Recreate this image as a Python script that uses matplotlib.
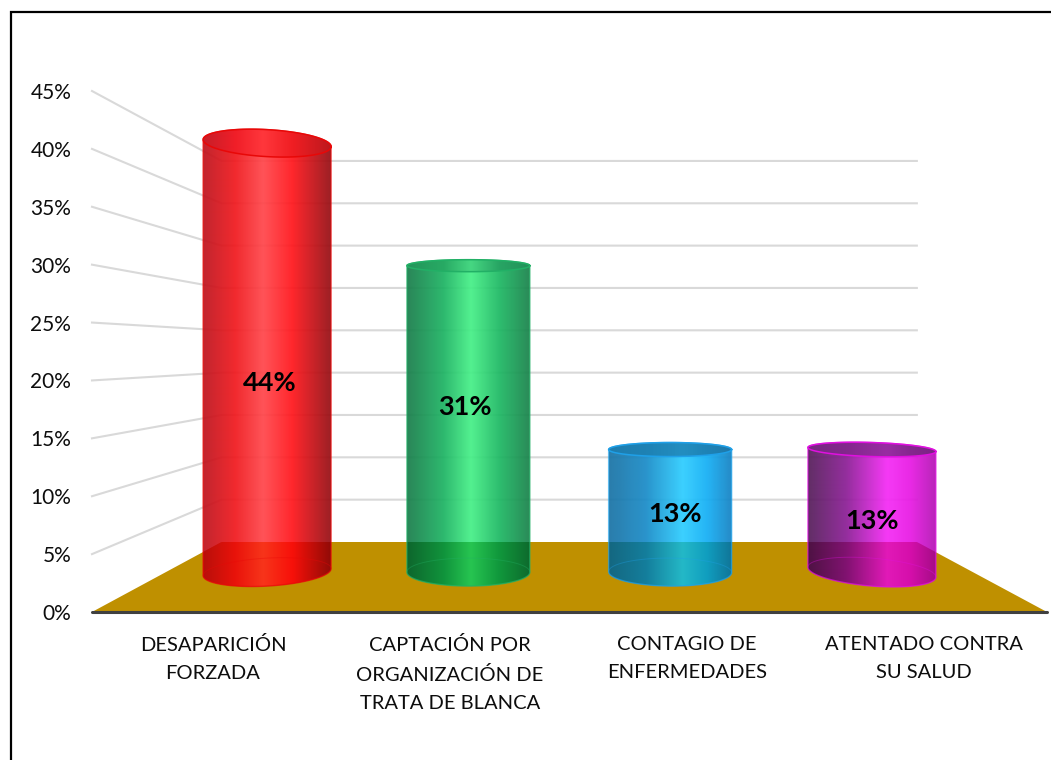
import numpy as np
import matplotlib
matplotlib.use("Agg")
import matplotlib.pyplot as plt
from matplotlib.lines import Line2D
from matplotlib.patches import Polygon, PathPatch
from matplotlib.path import Path

plt.rcParams['font.family'] = ['Lato', 'DejaVu Sans']

# ---- data ----
categories = ["DESAPARICIÓN\nFORZADA", "CAPTACIÓN POR\nORGANIZACIÓN DE\nTRATA DE BLANCA",
              "CONTAGIO DE\nENFERMEDADES", "ATENTADO CONTRA\nSU SALUD"]
values = [43.75, 31.25, 12.5, 12.5]
value_labels = ["44%", "31%", "13%", "13%"]
y_ticks = [0, 5, 10, 15, 20, 25, 30, 35, 40, 45]

# ---- style ----
W, H = 1051, 760
AX_L, AX_R, AX_T, AX_B = 92, 1047, 91, 612
XU = 237.0                      # px per category
YU = (AX_B - AX_T) / 45.0       # px per percent on front plane
X0 = (AX_L - 213) / XU
X1 = (AX_R - 213) / XU
X_SHRINK, Y_SHRINK, DEPTH_UP = 0.272, 0.2686, 70 / YU
CYL_DEPTH = 0.57
GRID = '#D9D9D9'
FLOOR = '#BF9000'
body_stops = [
    [(190, 20, 30), (240, 25, 30), (255, 70, 75), (255, 22, 28), (150, 15, 20)],
    [(25, 125, 75), (30, 180, 100), (70, 240, 135), (30, 185, 100), (25, 130, 75)],
    [(25, 115, 165), (25, 140, 200), (45, 205, 255), (20, 175, 245), (20, 130, 195)],
    [(85, 30, 90), (140, 30, 150), (245, 42, 245), (232, 25, 228), (180, 20, 180)],
]
top_stops = [
    [(200, 30, 40), (240, 30, 40), (255, 55, 60), (240, 30, 35), (190, 25, 30)],
    [(35, 150, 90), (40, 170, 100), (70, 215, 130), (40, 165, 100), (35, 145, 90)],
    [(30, 125, 175), (30, 130, 180), (35, 140, 190), (30, 130, 180), (30, 120, 170)],
    [(120, 40, 130), (130, 40, 140), (150, 45, 160), (130, 40, 140), (120, 35, 130)],
]
stop_pos = [
    [0, .25, .47, .7, 1], [0, .3, .52, .75, 1], [0, .3, .6, .8, 1], [0, .3, .62, .8, 1],
]
floor_tint = [(.97, .75, .35), (.55, .82, .6), (.8, .9, .78), (.92, .6, .75)]
edge_colors = ['#E80808', '#22B066', '#1FA0E8', '#E010E0']
cyl_dx = [-1, 0, 1.5, 3]
cyl_rx = [64, 61.5, 61.5, 64]
top_ry = [13.5, 6, 7, 7]
top_tilt = [3.5, 0, 0, 2]
base_ry = 14
base_tilt = [-3.5, 0, 0.5, 5]
label_dx = [2, -3, 6, 3]
label_dy = [-24, 13, -2, -9]


def project(x, v, d):
    """Map category x, percent v and floor depth d (0 front, 1 back) to front-plane data coords."""
    return 1.5 + (x - 1.5) * (1 - X_SHRINK * d), v * (1 - Y_SHRINK * d) + DEPTH_UP * d


def arc(cx, cy, rx, ry, tilt, t):
    return np.column_stack([cx + rx / XU * np.cos(t),
                            cy + (ry * np.sin(t) - tilt * np.cos(t)) / YU])


def floor_top(x):
    """Upper boundary of the floor polygon at front-plane x."""
    left_b = project(X0, 0, 1)[0]
    right_b = project(X1, 0, 1)[0]
    return np.minimum.reduce([np.full_like(x, DEPTH_UP),
                              (x - X0) / (left_b - X0) * DEPTH_UP,
                              (X1 - x) / (X1 - right_b) * DEPTH_UP])


def gradient(ax, stops, pos, alpha, clip, xlim, ylim, z):
    s = np.linspace(0, 1, 256)
    rgb = np.array(stops, float) / 255
    img = np.ones((1, 256, 4))
    for c in range(3):
        img[0, :, c] = np.interp(s, pos, rgb[:, c])
    img[0, :, 3] = alpha
    im = ax.imshow(img, extent=(xlim[0], xlim[1], ylim[0], ylim[1]), aspect='auto',
                   interpolation='bilinear', zorder=z, origin='lower')
    im.set_clip_path(clip)


fig = plt.figure(figsize=(W / 100, H / 100), dpi=100, facecolor='white')
ax = fig.add_axes([AX_L / W, 1 - AX_B / H, (AX_R - AX_L) / W, (AX_B - AX_T) / H])
ax.patch.set_visible(False)

# walls
for v in y_ticks[1:]:
    a = project(X0, v, 0); b = project(X0, v, 1); c = project(X1, v, 1)
    ax.plot([a[0], b[0], c[0]], [a[1], b[1], c[1]], color=GRID, lw=1.5, zorder=1,
            solid_joinstyle='miter', clip_on=False)

# floor
ax.add_patch(Polygon([project(X0, 0, 0), project(X1, 0, 0), project(X1, 0, 1), project(X0, 0, 1)],
                     closed=True, facecolor=FLOOR, edgecolor='none', zorder=2, clip_on=False))
ax.plot([X0, X1], [0, 0], color='#404040', lw=2.2, zorder=3, clip_on=False, solid_capstyle='round')

# cylinders
for i, val in enumerate(values):
    cx, base = project(i, 0, CYL_DEPTH)
    cx += cyl_dx[i] / XU
    _, top = project(i, val, CYL_DEPTH)
    rx = cyl_rx[i]
    upper = arc(cx, top, rx, top_ry[i], top_tilt[i], np.linspace(np.pi, 0, 60))
    lower = arc(cx, base, rx, base_ry, base_tilt[i], np.linspace(0, -np.pi, 60))
    outline = np.vstack([upper, lower, upper[:1]])
    body = PathPatch(Path(outline), facecolor='none', edgecolor='none', transform=ax.transData)
    ax.add_patch(body)
    xl = (cx - rx / XU, cx + rx / XU)
    yl = (base - 30 / YU, top + 30 / YU)
    gradient(ax, body_stops[i], stop_pos[i], 0.93, body, xl, yl, 4)
    # part of the cylinder in front of the floor: tinted section
    xs = np.linspace(xl[0], xl[1], 80)
    section = np.vstack([np.column_stack([xs, floor_top(xs)]), lower, [[xs[0], floor_top(xs[:1])[0]]]])
    sec = PathPatch(Path(section), facecolor='none', edgecolor='none', transform=ax.transData)
    ax.add_patch(sec)
    tinted = [tuple(c * m for c, m in zip(stop, floor_tint[i])) for stop in body_stops[i]]
    gradient(ax, tinted, stop_pos[i], 1.0, sec, xl, yl, 4.5)
    ax.add_patch(PathPatch(Path(outline), facecolor='none', edgecolor=edge_colors[i], lw=1.0,
                           alpha=.7, zorder=5))
    # faint far rim of the base
    rim = arc(cx, base, rx, base_ry, base_tilt[i], np.linspace(0, np.pi, 60))
    ax.plot(rim[:, 0], rim[:, 1], color=edge_colors[i], lw=.7, alpha=.35, zorder=5)
    # top ellipse
    top_pts = arc(cx, top, rx, top_ry[i], top_tilt[i], np.linspace(0, 2 * np.pi, 120))
    lid = PathPatch(Path(top_pts), facecolor='none', edgecolor='none', transform=ax.transData)
    ax.add_patch(lid)
    gradient(ax, top_stops[i], stop_pos[i], 0.97, lid, xl, yl, 6)
    ax.plot(top_pts[:, 0], top_pts[:, 1], color=edge_colors[i], lw=1.1, zorder=7)
    # value label
    ax.annotate(value_labels[i], xy=(cx, (base + top) / 2),
                xytext=((label_dx[i] - cyl_dx[i]) * .72, (label_dy[i] - 1) * .72),
                textcoords='offset points', ha='center', va='center', fontsize=19.5,
                fontweight='bold', color='black', zorder=8)

ax.set_xlim(X0, X1)
ax.set_ylim(0, 45)
ax.set_yticks(y_ticks)
ax.set_yticklabels([f"{t}%" for t in y_ticks], fontsize=15, color='#0D0D0D')
ax.set_xticks(range(len(categories)))
ax.set_xticklabels(categories, fontsize=14.5, color='#0D0D0D', linespacing=1.77)
ax.tick_params(axis='both', length=0)
ax.tick_params(axis='y', pad=15)
ax.tick_params(axis='x', pad=17.5)
for s in ax.spines.values():
    s.set_visible(False)

# outer frame (open at right and bottom)
fig.add_artist(Line2D([10.5 / W, 10.5 / W, 1], [0, 1 - 12 / H, 1 - 12 / H], color='black', lw=1.6,
                      solid_joinstyle='miter'))

fig.savefig("out.png", dpi=100)
